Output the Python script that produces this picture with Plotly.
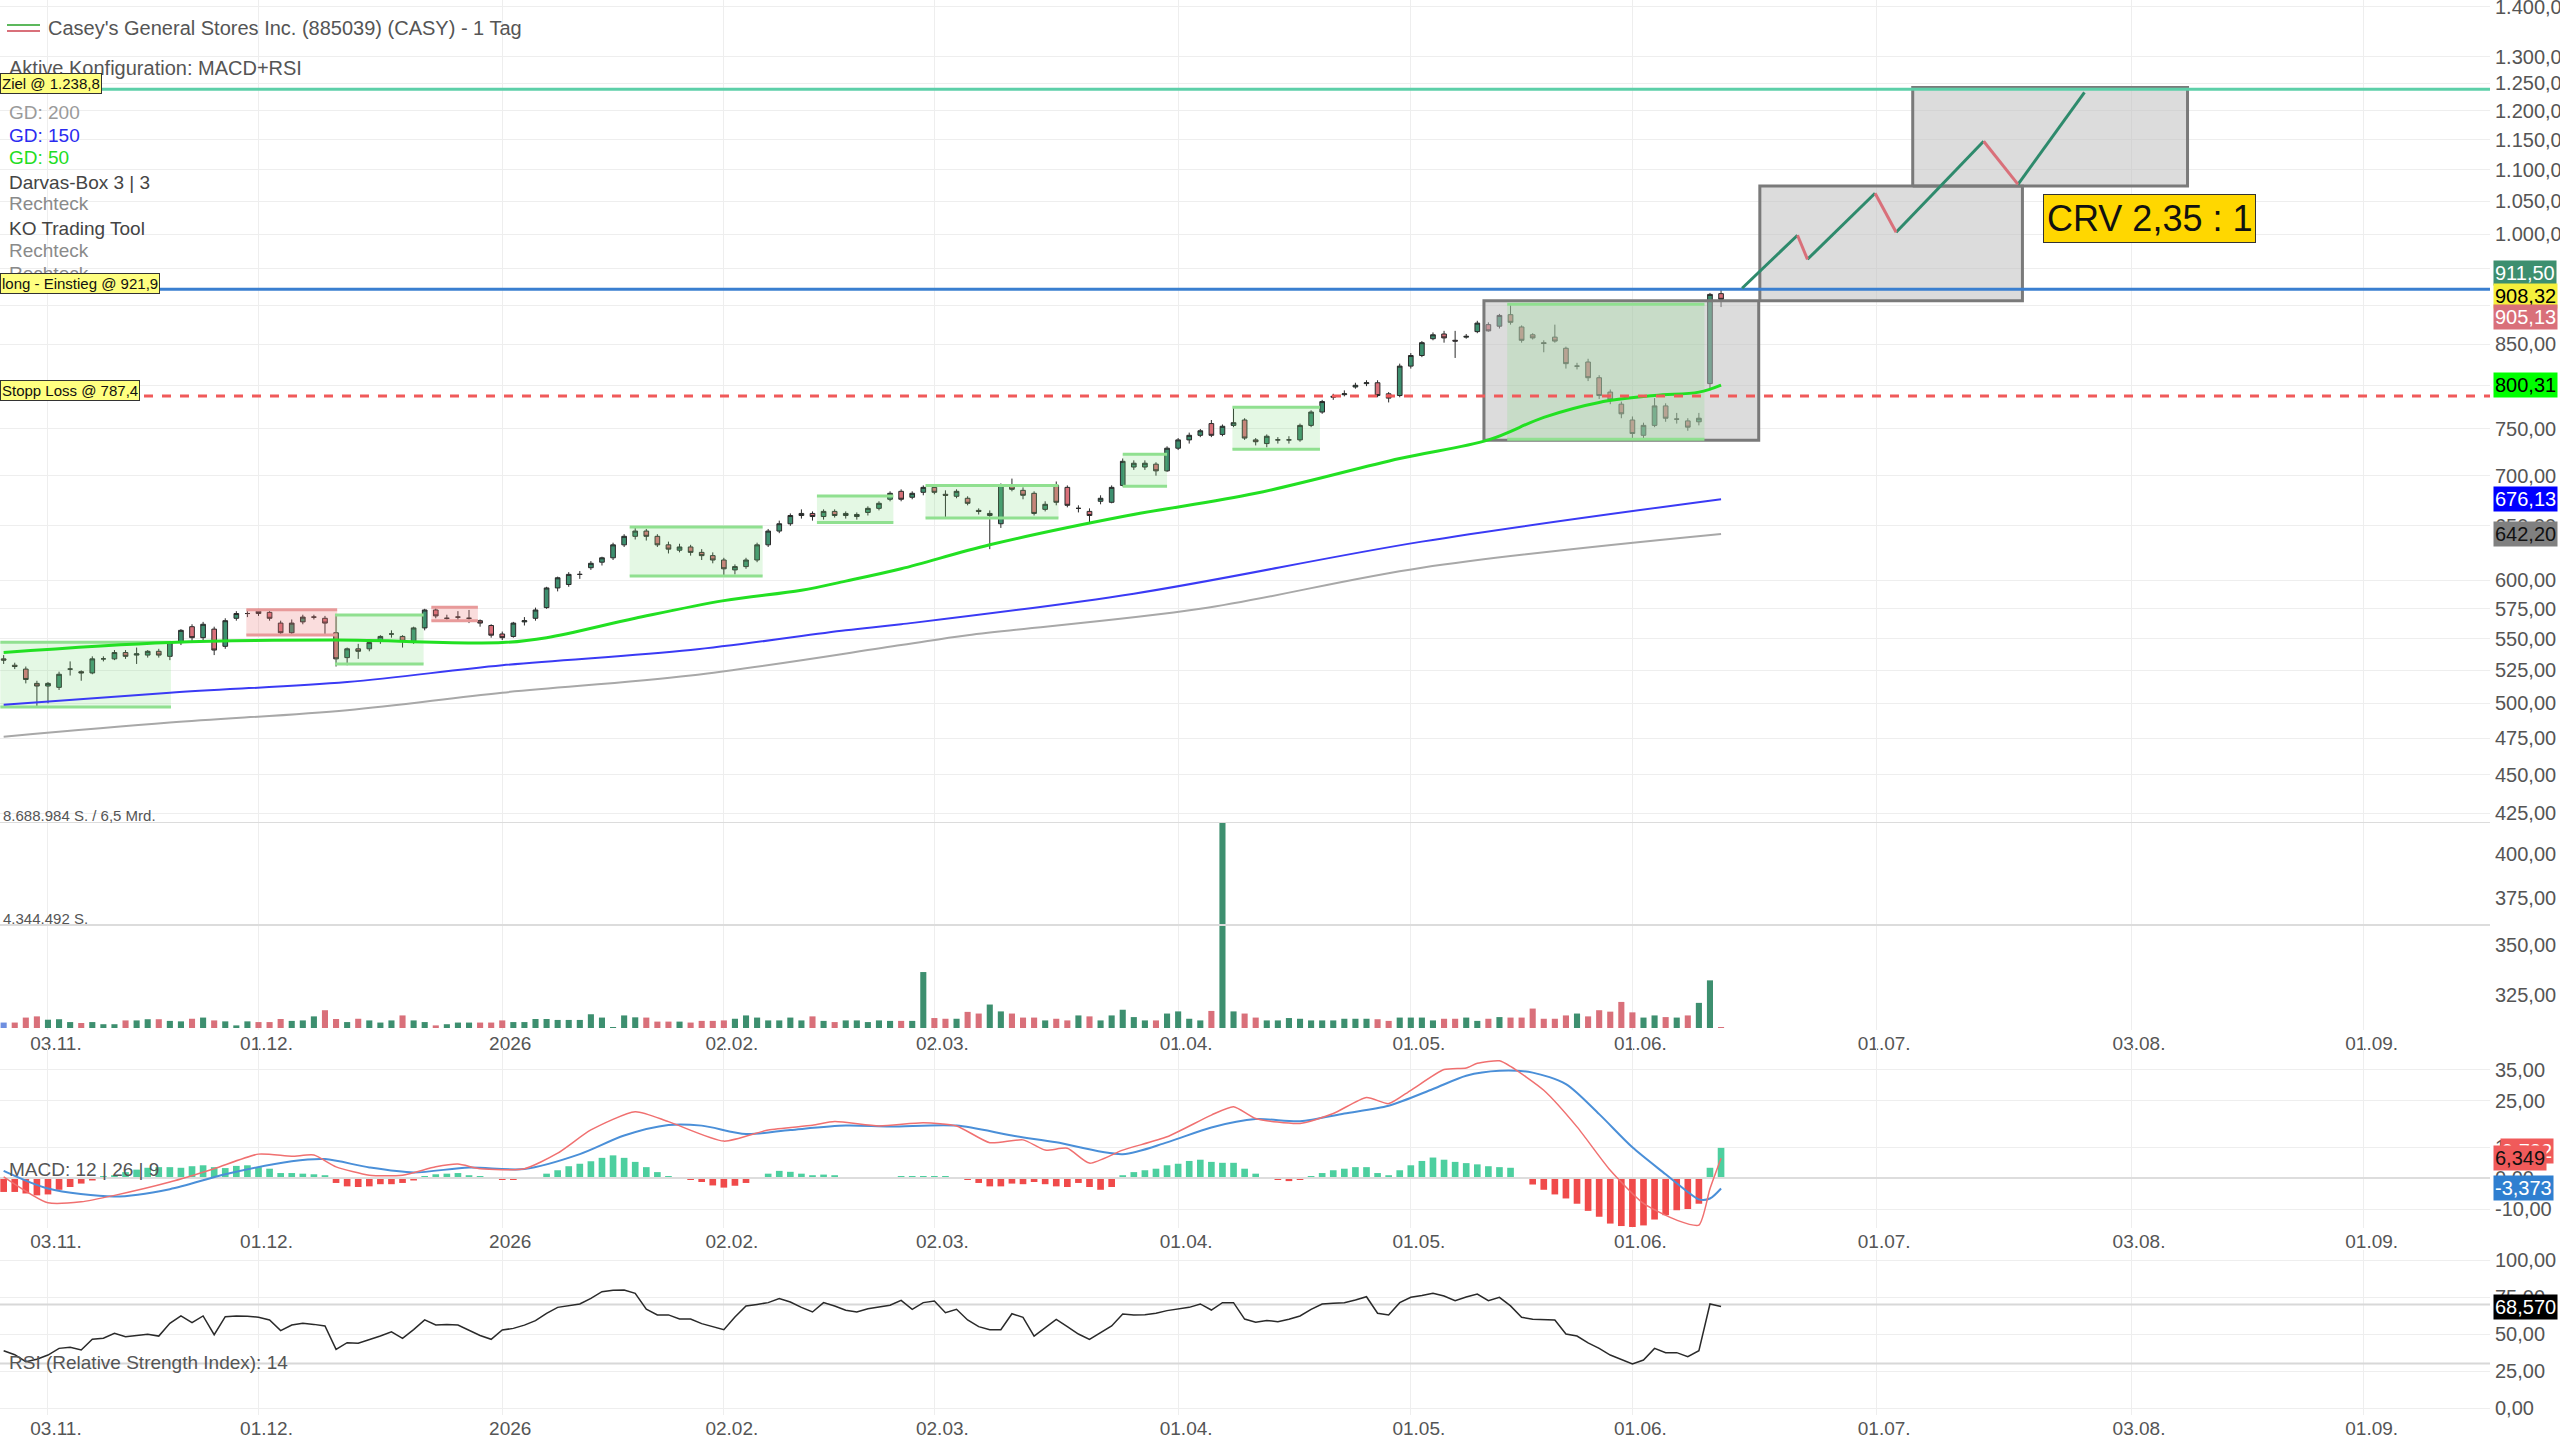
import math
import plotly.graph_objects as go

# ------------------------------------------------------------------ data
# trading-day index (03.11.2025 = 0); first candle at -4, last at 151
FIRST_INDEX = -4

OPEN = [534, 529, 526, 515, 513, 512, 526, 524, 523, 534, 534, 539, 537, 537, 540, 536, 547, 560, 551, 558,
        544, 567, 571, 573, 572, 563, 555, 564, 568, 567, 555, 535, 542, 542, 548, 554, 552, 548, 559, 574,
        567, 568, 567, 565, 561, 554, 552, 564, 567, 576, 593, 596, 605, 611, 616, 620, 632, 640, 645, 640,
        632, 627, 630, 625, 622, 618, 609, 612, 618, 632, 645, 652, 660, 662, 659, 664, 660, 659, 663, 667,
        676, 684, 678, 683, 688, 681, 679, 677, 665, 660, 652, 690, 685, 682, 666, 690, 688, 667, 664, 674,
        673, 690, 709, 709, 712, 705, 729, 738, 743, 756, 744, 754, 760, 738, 734, 738, 738, 738, 754, 769,
        786, 789, 798, 802, 803, 790, 788, 823, 836, 857, 863, 855, 859, 866, 875, 873, 888, 872, 862, 852,
        859, 845, 823, 828, 809, 792, 778, 760, 743, 754, 776, 761, 759, 758, 802, 916]
HIGH = [537, 531, 528, 517, 516, 524, 532, 525, 536, 536, 541, 541, 543, 541, 542, 548, 558, 562, 564, 560,
        567, 573, 573, 575, 574, 565, 566, 570, 570, 569, 570, 543, 546, 548, 553, 557, 553, 560, 575, 576,
        570, 573, 574, 566, 562, 556, 564, 568, 576, 594, 603, 607, 608, 617, 621, 634, 642, 649, 647, 642,
        635, 633, 632, 628, 625, 620, 614, 620, 634, 647, 655, 662, 666, 664, 666, 666, 664, 663, 669, 674,
        684, 686, 684, 690, 690, 685, 686, 679, 667, 665, 692, 697, 688, 684, 674, 694, 690, 670, 667, 680,
        690, 718, 716, 716, 714, 731, 740, 746, 750, 760, 755, 774, 762, 740, 744, 741, 742, 756, 771, 783,
        790, 794, 803, 806, 806, 792, 826, 839, 854, 865, 867, 867, 863, 880, 878, 889, 903, 874, 864, 855,
        875, 847, 827, 832, 812, 795, 781, 764, 757, 785, 779, 768, 762, 768, 917, 922]
LOW = [530, 526, 515, 497, 500, 510, 521, 517, 522, 532, 533, 534, 530, 535, 535, 533, 545, 548, 549, 537,
       542, 565, 568, 569, 565, 553, 553, 562, 566, 554, 528, 529, 534, 540, 546, 551, 543, 546, 557, 567,
       564, 565, 563, 560, 551, 549, 551, 561, 565, 575, 590, 594, 601, 609, 613, 618, 630, 637, 636, 630,
       624, 625, 622, 618, 615, 604, 605, 610, 616, 630, 643, 650, 657, 655, 656, 658, 657, 656, 660, 665,
       674, 674, 676, 680, 681, 658, 677, 670, 661, 628, 648, 684, 676, 660, 664, 670, 668, 663, 652, 671,
       672, 689, 706, 706, 700, 704, 727, 734, 741, 741, 742, 752, 738, 732, 730, 734, 734, 736, 752, 767,
       783, 787, 796, 799, 786, 780, 786, 820, 834, 855, 852, 833, 857, 864, 866, 870, 875, 852, 856, 840,
       852, 820, 819, 805, 784, 778, 762, 740, 740, 752, 758, 756, 748, 754, 794, 898]
CLOSE = [533, 528, 518, 513, 515, 522, 526, 523, 534, 534, 539, 536, 538, 540, 537, 547, 557, 551, 562, 541,
         565, 571, 571, 571, 567, 555, 563, 568, 568, 563, 534, 542, 540, 547, 552, 554, 548, 559, 574, 569,
         567, 568, 567, 563, 553, 551, 563, 565, 574, 593, 602, 605, 605, 615, 620, 632, 640, 645, 640, 632,
         628, 630, 625, 622, 618, 610, 612, 618, 632, 645, 652, 660, 662, 659, 664, 660, 662, 661, 667, 672,
         682, 676, 682, 688, 683, 680, 684, 672, 664, 662, 690, 686, 680, 662, 671, 673, 670, 667, 660, 677,
         688, 715, 713, 713, 705, 729, 738, 743, 748, 743, 753, 757, 740, 736, 742, 738, 738, 754, 769, 781,
         787, 790, 800, 803, 788, 785, 823, 836, 852, 862, 858, 854, 860, 877, 867, 887, 878, 855, 858, 851,
         854, 826, 823, 809, 788, 783, 767, 745, 754, 776, 762, 761, 752, 762, 915, 908.32]

# volume in millions of shares
VOLUME_M = [0.23, 0.23, 0.44, 0.49, 0.35, 0.37, 0.25, 0.21, 0.25, 0.16, 0.16, 0.32, 0.32, 0.37, 0.37, 0.30,
            0.28, 0.39, 0.44, 0.32, 0.28, 0.11, 0.28, 0.25, 0.25, 0.38, 0.30, 0.32, 0.49, 0.75, 0.38, 0.25,
            0.39, 0.32, 0.23, 0.32, 0.53, 0.32, 0.25, 0.11, 0.16, 0.23, 0.23, 0.23, 0.23, 0.32, 0.25, 0.25,
            0.38, 0.38, 0.34, 0.34, 0.34, 0.58, 0.44, 0.04, 0.53, 0.45, 0.44, 0.27, 0.27, 0.27, 0.23, 0.30,
            0.30, 0.32, 0.39, 0.53, 0.44, 0.32, 0.32, 0.44, 0.32, 0.49, 0.30, 0.25, 0.32, 0.32, 0.25, 0.32,
            0.30, 0.30, 0.30, 2.36, 0.42, 0.39, 0.39, 0.68, 0.61, 0.99, 0.70, 0.61, 0.44, 0.44, 0.32, 0.39,
            0.32, 0.53, 0.49, 0.32, 0.53, 0.77, 0.46, 0.32, 0.32, 0.61, 0.70, 0.39, 0.32, 0.72, 8.689, 0.70,
            0.61, 0.44, 0.32, 0.32, 0.42, 0.39, 0.32, 0.32, 0.32, 0.39, 0.39, 0.39, 0.37, 0.30, 0.44, 0.44,
            0.44, 0.32, 0.39, 0.39, 0.44, 0.30, 0.39, 0.46, 0.44, 0.44, 0.82, 0.39, 0.39, 0.53, 0.61, 0.49,
            0.75, 0.69, 1.10, 0.66, 0.44, 0.53, 0.46, 0.44, 0.53, 1.06, 2.01, 0.03]
VOL_MAX = 8.688984
VOL_HALF = 4.344492

MACD_HIST = [-4.5, -4.5, -5.0, -5.6, -5.3, -3.8, -2.9, -1.8, -0.8, 0.5, 0.9, 1.9, 2.7, 3.3, 3.5, 3.5,
             3.3, 3.8, 4.1, 3.5, 3.2, 3.9, 4.1, 3.5, 3.0, 1.6, 1.6, 1.4, 1.2, 0.9, -1.6, -2.7,
             -2.9, -2.7, -2.0, -2.0, -1.6, -0.8, 0.5, 1.2, 1.4, 1.6, 0.9, 0.5, 0.1, -0.4, -0.4, 0.1,
             0.3, 1.4, 2.5, 3.8, 4.6, 5.4, 6.5, 7.3, 6.5, 5.2, 3.5, 1.9, 0.5, 0.1, -0.5, -1.3,
             -2.4, -3.1, -2.5, -1.6, 0.3, 1.4, 2.3, 2.0, 1.4, 0.9, 1.1, 0.9, 0.1, 0.05, 0.05, 0.05,
             0.05, 0.4, 0.4, 0.4, 0.4, 0.4, -0.2, -0.5, -1.6, -2.7, -2.7, -1.8, -2.0, -1.3, -2.0, -2.7,
             -2.9, -1.6, -2.9, -3.8, -2.9, 0.9, 1.9, 2.5, 3.0, 4.1, 4.6, 5.5, 5.9, 5.2, 4.9, 4.9,
             3.0, 1.4, 0.3, -0.5, -1.0, -0.5, 0.5, 1.6, 2.5, 3.0, 3.5, 3.5, 1.6, 0.9, 2.5, 4.1,
             5.5, 6.6, 5.9, 5.2, 4.8, 4.4, 3.8, 3.5, 3.3, -0.3, -2.1, -3.8, -5.3, -6.6, -8.3, -10.6,
             -12.5, -14.7, -15.5, -15.8, -15.3, -13.4, -12.0, -10.4, -10.0, -8.3, 3.3, 9.722]

MACD_X = [-4, 0, 3, 6, 11, 15, 19, 22, 24, 26, 29, 32, 35, 37, 39, 43, 46, 49, 53, 56, 61, 65, 69, 71,
          75, 79, 82, 85, 88, 90, 92, 94, 97, 101, 105, 107, 109, 113, 116, 119, 121, 123, 126, 128,
          129, 131, 132, 135, 138, 141, 144, 147, 149, 150, 151]
MACD_V = [0.4, -8.0, -7.7, -5.6, -1.3, 3.0, 7.7, 7.0, 7.4, 3.6, 0.9, 0.9, 3.6, 4.5, 3.0, 3.0, 8.0, 15.5,
          21.4, 18.2, 11.9, 15.5, 17.0, 18.2, 16.8, 17.8, 16.8, 11.4, 12.3, 9.0, 9.6, 4.8, 9.0, 13.3,
          20.3, 23.0, 19.2, 17.6, 20.8, 26.0, 24.0, 28.3, 35.0, 35.5, 37.0, 37.8, 36.0, 28.3, 16.5, 2.5,
          -8.2, -13.6, -15.2, -3.5, 6.349]
SIGNAL_X = [-4, 0, 6, 11, 16, 22, 25, 29, 33, 38, 43, 48, 52, 56, 59, 63, 67, 72, 76, 82, 87, 91, 97,
            101, 105, 109, 113, 117, 121, 125, 128, 131, 134, 137, 140, 143, 146, 148, 149, 150, 151]
SIGNAL_V = [2.3, -3.4, -6.0, -3.6, 1.2, 5.4, 6.1, 3.4, 1.8, 3.4, 2.9, 7.7, 13.7, 17.1, 16.9, 14.2, 15.5,
            16.9, 16.6, 16.9, 13.7, 11.5, 7.7, 11.5, 16.3, 19.0, 18.3, 20.8, 23.3, 28.7, 33.0, 34.6, 34.0,
            30.3, 20.6, 9.9, 1.2, -4.5, -6.9, -6.6, -3.373]

RSI = [38.7, 36.0, 31.3, 33.0, 35.8, 40.3, 41.0, 39.2, 46.4, 47.1, 50.5, 48.2, 49.0, 49.8, 48.6, 57.2,
       62.2, 57.7, 62.2, 49.5, 61.7, 62.2, 62.0, 61.3, 59.5, 52.3, 56.1, 57.2, 56.5, 55.4, 39.6, 44.1,
       43.7, 46.0, 48.6, 51.5, 47.1, 53.0, 59.5, 56.1, 56.5, 56.1, 52.7, 49.0, 46.4, 52.7, 53.8, 56.0,
       59.0, 64.0, 68.0, 69.0, 70.3, 74.1, 78.6, 79.5, 79.7, 77.5, 66.7, 62.9, 62.9, 60.1, 60.1, 57.0,
       55.0, 52.9, 61.5, 68.9, 70.0, 71.2, 73.9, 71.6, 68.0, 64.9, 71.2, 68.9, 66.0, 64.9, 67.1, 68.0,
       69.4, 72.7, 66.7, 71.2, 72.3, 64.4, 66.7, 59.5, 55.0, 52.9, 52.9, 63.7, 61.3, 48.6, 54.0, 59.9,
       55.0, 50.0, 46.4, 51.0, 55.4, 63.5, 62.9, 63.0, 64.0, 65.8, 67.0, 68.0, 70.3, 66.2, 71.2, 71.2,
       60.1, 58.0, 59.2, 58.3, 60.0, 62.2, 66.7, 70.3, 70.8, 71.2, 73.0, 75.2, 64.0, 62.9, 71.2, 74.8,
       76.0, 77.5, 75.7, 72.5, 75.0, 77.0, 72.5, 74.8, 69.0, 61.3, 60.0, 60.0, 59.5, 50.0, 48.6, 44.0,
       40.3, 35.8, 33.0, 29.7, 32.4, 40.3, 37.4, 37.4, 34.7, 38.7, 70.3, 68.57]

GD50_X = [-4, 11, 26, 41, 45, 53, 61, 68, 72, 77, 85, 97, 109, 122, 130, 135, 140, 145, 149, 151]
GD50_V = [539, 547, 549, 547, 551, 567, 582, 591, 599, 610, 632, 659, 682, 718, 738, 763, 780, 788, 792, 800.31]
GD150_X = [-4, 11, 27, 41, 58, 72, 77, 98, 124, 151]
GD150_V = [499, 508, 516, 529, 541, 557, 562, 588, 635, 676.13]
GD200_X = [-4, 11, 27, 41, 58, 77, 83, 104, 124, 151]
GD200_V = [476, 486, 495, 508, 521, 545, 553, 575, 611, 642.20]

TICK_POS = [0, 19, 41, 61, 80, 102, 123, 143, 165, 188, 209]
TICK_TEXT = ["03.11.", "01.12.", "2026", "02.02.", "02.03.", "01.04.", "01.05.", "01.06.",
             "01.07.", "03.08.", "01.09."]

PRICE_TICKS = [1400, 1300, 1250, 1200, 1150, 1100, 1050, 1000, 950, 900, 850, 800, 750, 700, 650,
               600, 575, 550, 525, 500, 475, 450, 425, 400, 375, 350, 325]
MACD_TICKS = [35, 25, 10, 0, -10]
RSI_TICKS = [100, 75, 50, 25, 0]

ZIEL = 1238.8
EINSTIEG = 921.9
STOPP = 787.4

# Darvas boxes: (x start, x end, low, high, kind)
DARVAS = [(-4.3, 11.1, 497.3, 547.3, "g"), (17.9, 26.1, 553.2, 574.3, "r"),
          (25.9, 33.9, 530.0, 569.8, "g"), (34.6, 38.8, 564.9, 576.4, "r"),
          (52.5, 64.5, 603.6, 648.8, "g"), (69.4, 76.3, 653.2, 679.2, "g"),
          (79.2, 91.2, 657.6, 690.0, "g"), (97.0, 101.0, 689.2, 722.4, "g"),
          (106.9, 114.8, 728.0, 774.5, "g"), (131.7, 149.5, 738.8, 901.8, "g")]
# KO trading tool rectangles: (x start, x end, low, high)
KO_BOXES = [(129.6, 154.4, 737.7, 906.5), (154.5, 178.2, 906.5, 1074.0), (168.3, 193.1, 1074.0, 1242.0)]
ZIGZAG_X = [152.9, 157.9, 158.8, 164.9, 166.8, 174.7, 177.8, 183.8]
ZIGZAG_Y = [923.3, 998.5, 963.7, 1062.4, 1003.0, 1147.3, 1076.6, 1233.1]
CRV_TEXT = "CRV 2,35 : 1"
CRV_POS = (189.7, 1023.9)

LAST_LABELS = [(911.50, "#3d8f6f", "white", 26), (908.32, "#f5f03c", "black", 3), (905.13, "#d9707a", "white", -18)]
GD_LABELS = [(800.31, "#00ff00", "black"), (676.13, "#0000ff", "white"), (642.20, "#808080", "#111111")]

# ------------------------------------------------------------------ helpers
W, H = 2560, 1444
R_MARGIN = 70
PW = W - R_MARGIN
X_RANGE = [-4.33, 220.4]
FONT = "Liberation Sans, Arial, sans-serif"
GREEN = "#3d8f6f"
RED = "#d9707a"


def de(v, d=2):
    s = f"{v:,.{d}f}"
    return s.replace(",", "X").replace(".", ",").replace("X", ".")


def py(ypx):
    return 1 - ypx / H


def pxx(xpx):
    return xpx / PW


idx = list(range(FIRST_INDEX, FIRST_INDEX + len(CLOSE)))

fig = go.Figure()

# KO boxes
for (x0, x1, lo, hi) in KO_BOXES:
    fig.add_trace(go.Scatter(x=[x0, x1, x1, x0, x0], y=[lo, lo, hi, hi, lo], mode="lines",
                             fill="toself", fillcolor="rgba(185,185,185,0.5)",
                             line=dict(color="#7a7a7a", width=3), xaxis="x", yaxis="y", hoverinfo="skip"))

# Darvas boxes
for (x0, x1, lo, hi, k) in DARVAS:
    fc = "rgba(120,220,120,0.20)" if k == "g" else "rgba(235,120,120,0.25)"
    ec = "#90e090" if k == "g" else "#e89a9a"
    fig.add_trace(go.Scatter(x=[x0, x1, x1, x0, x0], y=[lo, lo, hi, hi, lo], mode="lines",
                             fill="toself", fillcolor=fc, line=dict(width=0), xaxis="x", yaxis="y",
                             hoverinfo="skip"))
    fig.add_trace(go.Scatter(x=[x0, x1, None, x0, x1], y=[lo, lo, None, hi, hi], mode="lines",
                             line=dict(color=ec, width=3), xaxis="x", yaxis="y", hoverinfo="skip"))

# volume bars
vcol = [GREEN if c >= o else RED for o, c in zip(OPEN, CLOSE)]
vcol[0] = "#6f8fe0"
fig.add_trace(go.Bar(x=idx, y=VOLUME_M, marker=dict(color=vcol, line=dict(width=0)), width=0.55,
                     xaxis="x", yaxis="y2", hoverinfo="skip"))
for lvl in (VOL_MAX, VOL_HALF):
    fig.add_trace(go.Scatter(x=X_RANGE, y=[lvl, lvl], mode="lines", line=dict(color="#dcdcdc", width=2),
                             xaxis="x", yaxis="y2", hoverinfo="skip"))

# moving averages
fig.add_trace(go.Scatter(x=GD200_X, y=GD200_V, mode="lines", line=dict(color="#a8a8a8", width=2, shape="spline"),
                         xaxis="x", yaxis="y"))
fig.add_trace(go.Scatter(x=GD150_X, y=GD150_V, mode="lines", line=dict(color="#3a3af5", width=2, shape="spline"),
                         xaxis="x", yaxis="y"))
fig.add_trace(go.Scatter(x=GD50_X, y=GD50_V, mode="lines", line=dict(color="#22e022", width=3, shape="spline"),
                         xaxis="x", yaxis="y"))

# horizontal trading lines
fig.add_trace(go.Scatter(x=X_RANGE, y=[ZIEL, ZIEL], mode="lines", line=dict(color="#5ccfa8", width=3),
                         xaxis="x", yaxis="y"))
fig.add_trace(go.Scatter(x=X_RANGE, y=[EINSTIEG, EINSTIEG], mode="lines", line=dict(color="#3a7fd0", width=3),
                         xaxis="x", yaxis="y"))
fig.add_trace(go.Scatter(x=X_RANGE, y=[STOPP, STOPP], mode="lines",
                         line=dict(color="#f05a5a", width=3, dash="dash"), xaxis="x", yaxis="y"))

# candles
fig.add_trace(go.Candlestick(x=idx, open=OPEN, high=HIGH, low=LOW, close=CLOSE,
                             increasing=dict(fillcolor=GREEN, line=dict(color="#2a2a2a", width=1)),
                             decreasing=dict(fillcolor=RED, line=dict(color="#2a2a2a", width=1)),
                             whiskerwidth=0, xaxis="x", yaxis="y", hoverinfo="skip"))

# zigzag projection
gx, gy, rx, ry = [], [], [], []
for k in range(len(ZIGZAG_X) - 1):
    seg_x = [ZIGZAG_X[k], ZIGZAG_X[k + 1], None]
    seg_y = [ZIGZAG_Y[k], ZIGZAG_Y[k + 1], None]
    if ZIGZAG_Y[k + 1] >= ZIGZAG_Y[k]:
        gx += seg_x; gy += seg_y
    else:
        rx += seg_x; ry += seg_y
fig.add_trace(go.Scatter(x=gx, y=gy, mode="lines", line=dict(color="#2e8a6c", width=3), xaxis="x", yaxis="y"))
fig.add_trace(go.Scatter(x=rx, y=ry, mode="lines", line=dict(color="#d9707a", width=3), xaxis="x", yaxis="y"))

# MACD panel
hcol = ["#4dcf9f" if v >= 0 else "#f04a4a" for v in MACD_HIST]
fig.add_trace(go.Bar(x=idx, y=MACD_HIST, marker=dict(color=hcol, line=dict(width=0)), width=0.6,
                     xaxis="x2", yaxis="y3"))
fig.add_trace(go.Scatter(x=X_RANGE, y=[0, 0], mode="lines", line=dict(color="#dddddd", width=2),
                         xaxis="x2", yaxis="y3"))
fig.add_trace(go.Scatter(x=SIGNAL_X, y=SIGNAL_V, mode="lines",
                         line=dict(color="#4a8fd8", width=2, shape="spline", smoothing=0.8),
                         xaxis="x2", yaxis="y3"))
fig.add_trace(go.Scatter(x=MACD_X, y=MACD_V, mode="lines",
                         line=dict(color="#f07070", width=1.5, shape="spline", smoothing=0.6),
                         xaxis="x2", yaxis="y3"))

# RSI panel
for lvl in (70, 30):
    fig.add_trace(go.Scatter(x=X_RANGE, y=[lvl, lvl], mode="lines", line=dict(color="#d8d8d8", width=2),
                             xaxis="x3", yaxis="y4"))
fig.add_trace(go.Scatter(x=idx, y=RSI, mode="lines", line=dict(color="#2a2a2a", width=1.5),
                         xaxis="x3", yaxis="y4"))

# ------------------------------------------------------------------ axes
xfont = dict(family=FONT, size=19, color="#555555")
yfont = dict(family=FONT, size=20, color="#555555")
xcommon = dict(range=X_RANGE, tickvals=TICK_POS, ticktext=TICK_TEXT, showgrid=True, gridcolor="#eeeeee",
               gridwidth=1, zeroline=False, showline=False, ticks="", tickfont=xfont, ticklabelshift=8,
               automargin=False, fixedrange=True)
ycommon = dict(side="right", showgrid=True, gridcolor="#eeeeee", gridwidth=1, zeroline=False, showline=False,
               ticks="", tickfont=yfont, automargin=False, fixedrange=True, ticklabelstandoff=4,
               ticklabeloverflow="allow")

fig.update_layout(
    width=W, height=H, margin=dict(l=0, r=R_MARGIN, t=0, b=0),
    paper_bgcolor="white", plot_bgcolor="white", showlegend=False, template="none",
    boxgap=0.4, bargap=0.4,
    xaxis=dict(**xcommon, domain=[0, 1], anchor="y", rangeslider=dict(visible=False)),
    xaxis2=dict(**xcommon, domain=[0, 1], anchor="y3", matches="x"),
    xaxis3=dict(**xcommon, domain=[0, 1], anchor="y4", matches="x"),
    yaxis=dict(**ycommon, type="log", domain=[py(1030), 1.0],
               range=[math.log10(308.6), math.log10(1413.6)],
               tickvals=PRICE_TICKS, ticktext=[de(v) for v in PRICE_TICKS], anchor="x"),
    yaxis2=dict(domain=[py(1028), py(822)], range=[0, VOL_MAX], visible=False, anchor="x", fixedrange=True),
    yaxis3=dict(**ycommon, domain=[py(1228), py(1048)], range=[-16.13, 41.94],
                tickvals=MACD_TICKS, ticktext=[de(v) for v in MACD_TICKS], anchor="x2"),
    yaxis4=dict(**ycommon, domain=[py(1415), py(1250)], range=[-4.73, 106.76],
                tickvals=RSI_TICKS, ticktext=[de(v) for v in RSI_TICKS], anchor="x3"),
)

# ------------------------------------------------------------------ texts
ann = []


def left_text(text, ypx, color, size=19, x=7):
    ann.append(dict(text=text, xref="paper", yref="paper", x=pxx(x), y=py(ypx), xanchor="left",
                    yanchor="middle", showarrow=False, font=dict(family=FONT, size=size, color=color)))


left_text("Casey's General Stores Inc. (885039) (CASY) - 1 Tag", 28, "#555555", 20, 46)
left_text("Aktive Konfiguration: MACD+RSI", 68, "#555555", 20)
left_text("GD: 200", 112, "#9a9a9a")
left_text("GD: 150", 135, "#2a2af0")
left_text("GD: 50", 158, "#22dd22")
left_text("Darvas-Box 3 | 3", 182, "#444444")
left_text("Rechteck", 204, "#8a8a8a")
left_text("KO Trading Tool", 228, "#444444")
left_text("Rechteck", 251, "#8a8a8a")
left_text("Rechteck", 273, "#8a8a8a")
left_text(f"{de(VOL_MAX * 1e6, 0)} S. / 6,5 Mrd.", 815, "#555555", 15, 1)
left_text(f"{de(VOL_HALF * 1e6, 0)} S.", 918, "#555555", 15, 1)
left_text("MACD: 12 | 26 | 9", 1169, "#555555", 19)
left_text("RSI (Relative Strength Index): 14", 1362, "#555555", 19)

# yellow level labels at the left
for text, val in ((f"Ziel @ {de(ZIEL, 1)}", ZIEL), (f"long - Einstieg @ {de(EINSTIEG, 1)}", EINSTIEG),
                  (f"Stopp Loss @ {de(STOPP, 1)}", STOPP)):
    ann.append(dict(text=text, xref="paper", yref="y", x=0, y=math.log10(val), xanchor="left",
                    yanchor="middle", yshift=6, showarrow=False, bgcolor="#ffff80", bordercolor="#333333",
                    borderwidth=1, borderpad=1, font=dict(family=FONT, size=15, color="#111111")))

# CRV box
ann.append(dict(text=CRV_TEXT, xref="x", yref="y", x=CRV_POS[0], y=math.log10(CRV_POS[1]), showarrow=False,
                bgcolor="#ffd700", bordercolor="#333333", borderwidth=1, borderpad=3,
                font=dict(family=FONT, size=36, color="#111111")))


def right_label(text, yref, yval, bg, fg, shift=0, xshift=3):
    ann.append(dict(text=text, xref="paper", yref=yref, x=1, y=yval, xanchor="left", yanchor="middle",
                    xshift=xshift, yshift=shift, showarrow=False, bgcolor=bg, borderpad=1,
                    font=dict(family=FONT, size=20, color=fg)))


for val, bg, fg, sh in LAST_LABELS:
    right_label(de(val), "y", math.log10(908.32), bg, fg, sh)
for val, bg, fg in GD_LABELS:
    right_label(de(val), "y", math.log10(val), bg, fg)
right_label(de(MACD_HIST[-1], 3), "y3", MACD_V[-1], "#f05a5a", "white", 7, 10)
right_label(de(MACD_V[-1], 3), "y3", MACD_V[-1], "#f05a5a", "#111111")
right_label(de(SIGNAL_V[-1], 3), "y3", SIGNAL_V[-1], "#2f7fd0", "white")
right_label(de(RSI[-1], 3), "y4", RSI[-1], "#000000", "white")

fig.update_layout(annotations=ann)

# legend icon of the title line
fig.add_shape(type="line", xref="paper", yref="paper", x0=pxx(7), x1=pxx(40), y0=py(25), y1=py(25),
              line=dict(color="#5cb85c", width=2))
fig.add_shape(type="line", xref="paper", yref="paper", x0=pxx(7), x1=pxx(40), y0=py(31), y1=py(31),
              line=dict(color="#d9707a", width=2))

fig.write_html("out.html")
